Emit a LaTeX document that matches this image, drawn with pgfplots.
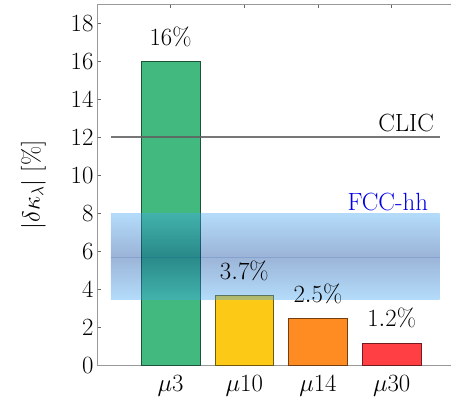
\documentclass[border=0pt]{standalone}
\usepackage{pgfplots}
\pgfplotsset{compat=1.18}

\definecolor{barGreen}{RGB}{66,185,126}
\definecolor{barYellow}{RGB}{252,201,23}
\definecolor{barOrange}{RGB}{255,140,34}
\definecolor{barRed}{RGB}{255,63,68}
\definecolor{bandLight}{RGB}{67,167,242}
\definecolor{bandDark}{RGB}{5,67,155}
\definecolor{fccBlue}{RGB}{0,0,235}
\definecolor{clicGray}{RGB}{95,95,95}

\begin{document}
\begin{tikzpicture}
\begin{axis}[
  scale only axis,
  width=354bp, height=362bp,
  xmin=0, xmax=4.8, ymin=0, ymax=19,
  axis x line*=box, axis y line*=left,
  axis line style={black!40, line width=0.8bp},
  tick style={black!60, line width=0.6bp},
  major tick length=4bp,
  xtick={1,2,3,4},
  xticklabels={$\mu3$,$\mu10$,$\mu14$,$\mu30$},
  xticklabel style={yshift=-6bp},
  ytick={0,2,...,18},
  font=\fontsize{25}{29}\selectfont,
  ylabel={$|\delta\kappa_\lambda|$ [\%]},
  ylabel shift=18bp,
  nodes near coords={\pgfmathprintnumber{\pgfplotspointmeta}\%},
  every node near coord/.append style={anchor=base, yshift=16bp, black},
]
% muon collider options
\addplot[ybar, bar width=0.8, bar shift=0pt, fill=barGreen, draw=barGreen!45!black, line width=0.6bp]
  coordinates {(1,16)};
\addplot[ybar, bar width=0.8, bar shift=0pt, fill=barYellow, draw=barYellow!45!black, line width=0.6bp]
  coordinates {(2,3.7)};
\addplot[ybar, bar width=0.8, bar shift=0pt, fill=barOrange, draw=barOrange!45!black, line width=0.6bp]
  coordinates {(3,2.5)};
\addplot[ybar, bar width=0.8, bar shift=0pt, fill=barRed, draw=barRed!45!black, line width=0.6bp]
  coordinates {(4,1.2)};

% FCC-hh band, 3.5 to 8, darkest near the central value 5.7
\addplot[draw=none, fill opacity=0.4, top color=bandLight, bottom color=bandLight, middle color=bandDark, nodes near coords={}]
  coordinates {(0.19,3.5) (4.65,3.5) (4.65,8) (0.19,8)} -- cycle;
\addplot[bandDark, opacity=0.15, line width=0.5bp, nodes near coords={}]
  coordinates {(0.19,5.7) (4.65,5.7)};

% CLIC reference line
\addplot[clicGray, opacity=0.85, line width=1.6bp, nodes near coords={}]
  coordinates {(0.19,12) (4.65,12)};

\node[anchor=base east, black] at (axis cs:4.65,12) [xshift=-2bp, yshift=6bp] {CLIC};
\node[anchor=base east, fccBlue] at (axis cs:4.65,8) [xshift=-8bp, yshift=3bp] {FCC-hh};
\end{axis}
\path (current axis.south west) ++(-97bp,-38bp);
\path (current axis.north east) ++(0,4bp);
\end{tikzpicture}
\end{document}
